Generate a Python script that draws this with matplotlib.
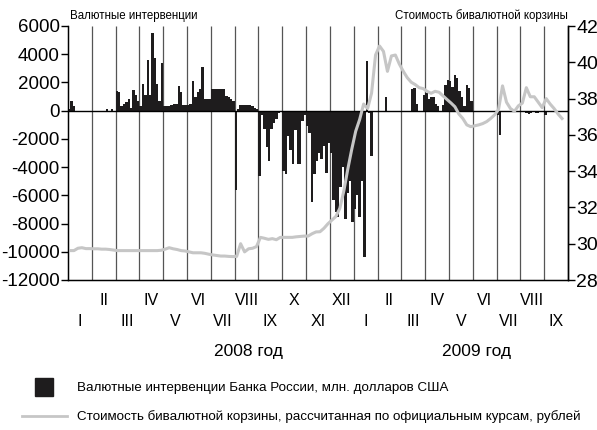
import numpy as np
import matplotlib
matplotlib.use('Agg')
import matplotlib.pyplot as plt
from matplotlib.lines import Line2D
from matplotlib.patches import Rectangle

plt.rcParams['font.family'] = ['Liberation Sans', 'DejaVu Sans']
plt.rcParams['axes.unicode_minus'] = False

# interventions, mln USD: 10 values per month, Jan 2008 .. Sep 2009
interv_2008 = [
    [150, 650, 350, 0, 0, 0, 0, 0, 0, 0],
    [0, 0, 0, 0, 0, 0, 100, 0, 150, 0],
    [1400, 1350, 300, 500, 600, 800, 200, 1450, 1100, 700],
    [300, 1900, 1100, 3600, 1100, 5500, 3700, 1900, 700, 3400],
    [350, 350, 350, 400, 500, 500, 1750, 1300, 400, 400],
    [400, 450, 2100, 1000, 1300, 1500, 3100, 850, 850, 850],
    [1550, 1550, 1550, 1550, 1550, 1550, 1050, 1000, 800, 650],
    [-5600, 100, 400, 400, 400, 400, 400, 350, 200, 150],
    [-4600, -300, -1300, -2600, -3600, -1300, -900, -600, -200, -100],
    [-4300, -4500, -1800, -2800, -3800, -1400, -3800, -3800, -700, -300],
    [-1100, -1600, -6500, -4500, -3600, -3000, -3400, -2500, -4400, -2300],
    [-3000, -6300, -7150, -7500, -5400, -4000, -7700, -5850, -5000, -7900],
]
interv_2009 = [
    [-7000, -6000, -7500, -5000, -10400, 3500, -200, -3200, 0, 0],
    [0, 0, 0, 1000, 0, 0, 0, 0, 0, 0],
    [0, 0, 0, 0, 1500, 1600, 500, 0, 0, 1100],
    [1250, 800, 1000, 1000, 500, 300, 0, 400, 1800, 2200],
    [2100, 1700, 2500, 2300, 1400, 1000, 300, 1800, 1600, 700],
    [0, 0, 0, 0, 0, 0, 0, 0, 0, 0],
    [-300, -1700, -100, 0, 0, 0, 0, 0, 0, 0],
    [0, 0, -150, -250, -200, -100, -200, -150, 0, 0],
    [-300, -100, 0, 0, 0, 0, 0, 0, 0, 0],
]

# bi-currency basket, rubles: 6 values per month
basket_2008 = [
    [29.62, 29.62, 29.75, 29.78, 29.73, 29.73],
    [29.72, 29.72, 29.70, 29.70, 29.68, 29.65],
    [29.62, 29.62, 29.62, 29.62, 29.62, 29.62],
    [29.62, 29.62, 29.62, 29.62, 29.62, 29.64],
    [29.70, 29.78, 29.72, 29.68, 29.62, 29.60],
    [29.55, 29.50, 29.50, 29.50, 29.47, 29.42],
    [29.38, 29.35, 29.32, 29.32, 29.30, 29.29],
    [29.30, 30.00, 29.55, 29.72, 29.75, 29.84],
    [30.35, 30.30, 30.24, 30.28, 30.22, 30.35],
    [30.35, 30.35, 30.35, 30.38, 30.40, 30.42],
    [30.42, 30.55, 30.65, 30.66, 30.85, 31.10],
    [31.30, 31.50, 31.95, 32.90, 34.10, 35.20],
]
basket_2009 = [
    [36.20, 36.85, 37.70, 37.45, 38.30, 40.40],
    [40.90, 40.60, 39.50, 40.35, 40.40, 39.90],
    [39.50, 39.15, 38.90, 38.77, 38.60, 38.55],
    [38.40, 38.29, 38.40, 38.35, 38.15, 37.95],
    [37.76, 37.55, 37.15, 36.90, 36.55, 36.45],
    [36.50, 36.55, 36.62, 36.73, 36.90, 37.10],
    [37.40, 38.70, 37.80, 37.45, 37.30, 37.60],
    [37.75, 38.60, 38.10, 38.10, 37.80, 37.50],
    [38.00, 37.70, 37.45, 37.15, 36.90],
]

months_top = ['II', 'IV', 'VI', 'VIII', 'X', 'XII', 'II', 'IV', 'VI', 'VIII']
months_bottom = ['I', 'III', 'V', 'VII', 'IX', 'XI', 'I', 'III', 'V', 'VII', 'IX']
years = ['2008 год', '2009 год']

interv = interv_2008 + interv_2009
basket = basket_2008 + basket_2009
n_months = len(interv)

bar_x, bar_y = [], []
for m, vals in enumerate(interv):
    for k, v in enumerate(vals):
        bar_x.append(m + (k + 0.5) / len(vals))
        bar_y.append(v)

line_x, line_y = [], []
for m, vals in enumerate(basket):
    for k, v in enumerate(vals):
        line_x.append(m + (k + 0.5) / 6)
        line_y.append(v)

W, H = 597, 430
fig = plt.figure(figsize=(W / 100, H / 100), dpi=100)
ax = fig.add_axes([68 / W, 1 - 280 / H, 500 / W, 254 / H])
ax.set_xlim(0, n_months)
ax.set_ylim(-12000, 6000)

ax.vlines(np.arange(1, n_months), -12000, 6000, color='#555555', lw=0.9, zorder=1)
ax.bar(bar_x, bar_y, width=0.1, color='#1e1c1d', linewidth=0, zorder=2)
ax.axhline(0, color='black', lw=1, zorder=3)

ax.set_yticks(np.arange(-12000, 6001, 2000))
ax.set_xticks([])
ax.tick_params(axis='y', direction='out', length=5, width=1, pad=1, labelsize=13.5)
ax.spines['top'].set_visible(False)
for s in ['left', 'right', 'bottom']:
    ax.spines[s].set_linewidth(1)

ax2 = ax.twinx()
ax2.set_ylim(28, 42)
ax2.set_yticks(np.arange(28, 43, 2))
ax2.plot(line_x, line_y, color='#c6c6c6', lw=2.2, solid_joinstyle='round')
ax2.tick_params(axis='y', direction='out', length=5, width=1, pad=1, labelsize=14)
ax2.spines['top'].set_visible(False)
ax2.spines['right'].set_linewidth(1)

# month labels in two rows
for i, lab in enumerate(months_top):
    ax.text(2 * i + 1.5, -0.079, lab, transform=ax.get_xaxis_transform(),
            ha='center', va='center', fontsize=11.5)
for i, lab in enumerate(months_bottom):
    ax.text(2 * i + 0.5, -0.164, lab, transform=ax.get_xaxis_transform(),
            ha='center', va='center', fontsize=11.5)
ax.text(7.58, -0.282, years[0], transform=ax.get_xaxis_transform(),
        ha='center', va='center', fontsize=12.5)
ax.text(17.16, -0.282, years[1], transform=ax.get_xaxis_transform(),
        ha='center', va='center', fontsize=12.5)

fig.text(70 / W, 1 - 16 / H, 'Валютные интервенции', ha='left', va='center', fontsize=8.3)
fig.text(568 / W, 1 - 16 / H, 'Стоимость бивалютной корзины', ha='right', va='center', fontsize=8.3)

# legend
fig.patches.append(Rectangle((35 / W, 1 - 396 / H), 18 / W, 18 / H,
                             transform=fig.transFigure, color='#1e1c1d'))
fig.lines.append(Line2D([22 / W, 67 / W], [1 - 416 / H, 1 - 416 / H],
                        transform=fig.transFigure, color='#c6c6c6', lw=2))
fig.text(77 / W, 1 - 388 / H, 'Валютные интервенции Банка России, млн. долларов США',
         ha='left', va='center', fontsize=9.6)
fig.text(77 / W, 1 - 417 / H,
         'Стоимость бивалютной корзины, рассчитанная по официальным курсам, рублей',
         ha='left', va='center', fontsize=9.6)

fig.savefig('out.png', dpi=100)
